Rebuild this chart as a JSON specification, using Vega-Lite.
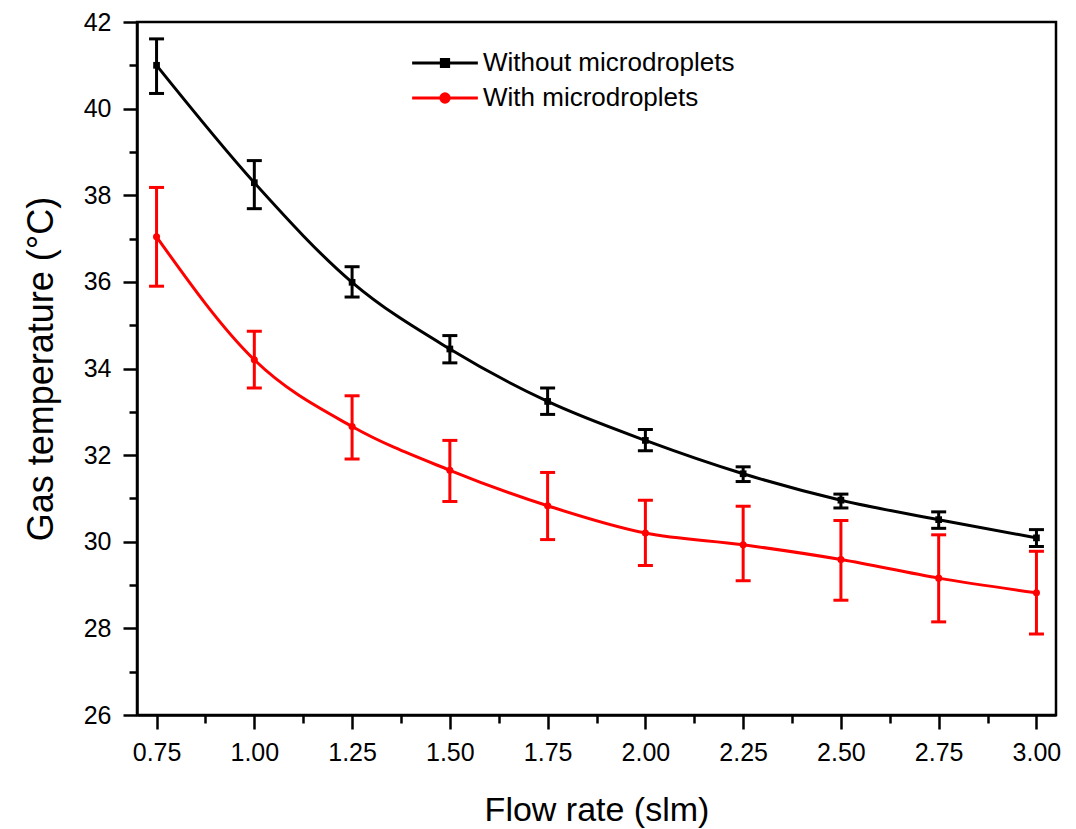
{
  "$schema": "https://vega.github.io/schema/vega-lite/v6.json",
  "width": 919,
  "height": 693,
  "autosize": {"type": "none"},
  "padding": {"left": 137, "top": 22, "right": 20, "bottom": 114},
  "background": "white",
  "data": {
    "values": [
      {"flow": 0.75, "temp": 41.0, "lo": 40.35, "hi": 41.61, "series": "Without microdroplets"},
      {"flow": 1.0, "temp": 38.29, "lo": 37.69, "hi": 38.8, "series": "Without microdroplets"},
      {"flow": 1.25, "temp": 35.99, "lo": 35.65, "hi": 36.35, "series": "Without microdroplets"},
      {"flow": 1.5, "temp": 34.45, "lo": 34.13, "hi": 34.76, "series": "Without microdroplets"},
      {"flow": 1.75, "temp": 33.24, "lo": 32.94, "hi": 33.55, "series": "Without microdroplets"},
      {"flow": 2.0, "temp": 32.34, "lo": 32.1, "hi": 32.59, "series": "Without microdroplets"},
      {"flow": 2.25, "temp": 31.57, "lo": 31.39, "hi": 31.73, "series": "Without microdroplets"},
      {"flow": 2.5, "temp": 30.96, "lo": 30.78, "hi": 31.1, "series": "Without microdroplets"},
      {"flow": 2.75, "temp": 30.51, "lo": 30.31, "hi": 30.69, "series": "Without microdroplets"},
      {"flow": 3.0, "temp": 30.09, "lo": 29.89, "hi": 30.28, "series": "Without microdroplets"},
      {"flow": 0.75, "temp": 37.04, "lo": 35.9, "hi": 38.18, "series": "With microdroplets"},
      {"flow": 1.0, "temp": 34.2, "lo": 33.55, "hi": 34.86, "series": "With microdroplets"},
      {"flow": 1.25, "temp": 32.66, "lo": 31.91, "hi": 33.37, "series": "With microdroplets"},
      {"flow": 1.5, "temp": 31.65, "lo": 30.93, "hi": 32.34, "series": "With microdroplets"},
      {"flow": 1.75, "temp": 30.83, "lo": 30.05, "hi": 31.6, "series": "With microdroplets"},
      {"flow": 2.0, "temp": 30.2, "lo": 29.45, "hi": 30.96, "series": "With microdroplets"},
      {"flow": 2.25, "temp": 29.93, "lo": 29.1, "hi": 30.82, "series": "With microdroplets"},
      {"flow": 2.5, "temp": 29.59, "lo": 28.65, "hi": 30.49, "series": "With microdroplets"},
      {"flow": 2.75, "temp": 29.16, "lo": 28.15, "hi": 30.16, "series": "With microdroplets"},
      {"flow": 3.0, "temp": 28.82, "lo": 27.87, "hi": 29.78, "series": "With microdroplets"}
    ]
  },
  "resolve": {"axis": {"x": "independent", "y": "independent"}},
  "layer": [
    {
      "mark": {"type": "line", "interpolate": "monotone", "strokeWidth": 3},
      "encoding": {
        "x": {"field": "flow", "type": "quantitative",
          "scale": {"domain": [0.7, 3.05], "nice": false, "zero": false},
          "axis": {"orient": "bottom", "title": "Flow rate (slm)", "values": [0.75, 1.0, 1.25, 1.5, 1.75, 2.0, 2.25, 2.5, 2.75, 3.0], "format": ".2f",
            "tickSize": 14, "labelPadding": 11, "labelFontSize": 25, "titleFontSize": 34, "titleFontWeight": "normal",
            "titleY": 105, "titleBaseline": "alphabetic"}},
        "y": {"field": "temp", "type": "quantitative",
          "scale": {"domain": [26, 42], "nice": false, "zero": false},
          "axis": {"orient": "left", "title": "Gas temperature (°C)", "values": [26, 28, 30, 32, 34, 36, 38, 40, 42],
            "tickSize": 14, "labelPadding": 12, "labelFontSize": 25, "titleFontSize": 36, "titleFontWeight": "normal",
            "titleX": -85, "titleBaseline": "alphabetic"}},
        "color": {"field": "series", "type": "nominal",
          "scale": {"domain": ["Without microdroplets", "With microdroplets"], "range": ["#000000", "#ff0000"]},
          "legend": {"title": null, "orient": "none", "legendX": 295, "legendY": 28,
            "symbolType": "M-3,0H3M-0.35,-0.35H0.35V0.35H-0.35Z", "symbolSize": 480, "symbolOpacity": 1, "symbolStrokeWidth": 3,
            "labelOffset": 25, "rowPadding": 9,
            "encode": {"symbols": {"update": {"shape": {"signal": "datum.value === 'With microdroplets' ? 'M-3,0H3M0.38,0A0.38,0.38,0,1,1,-0.38,0A0.38,0.38,0,1,1,0.38,0Z' : 'M-3,0H3M-0.33,-0.33H0.33V0.33H-0.33Z'"}}}}}}
      }
    },
    {
      "mark": {"type": "rule", "strokeWidth": 3},
      "encoding": {
        "x": {"field": "flow", "type": "quantitative",
          "scale": {"domain": [0.7, 3.05], "nice": false, "zero": false},
          "axis": {"orient": "bottom", "title": null, "labels": false, "domain": false, "tickSize": 8,
            "values": [0.875, 1.125, 1.375, 1.625, 1.875, 2.125, 2.375, 2.625, 2.875]}},
        "y": {"field": "lo", "type": "quantitative",
          "scale": {"domain": [26, 42], "nice": false, "zero": false},
          "axis": {"orient": "left", "title": null, "labels": false, "domain": false, "tickSize": 8,
            "values": [27, 29, 31, 33, 35, 37, 39, 41]}},
        "y2": {"field": "hi"},
        "color": {"field": "series", "type": "nominal",
          "scale": {"domain": ["Without microdroplets", "With microdroplets"], "range": ["#000000", "#ff0000"]}}
      }
    },
    {
      "mark": {"type": "tick", "orient": "horizontal", "size": 15, "thickness": 3, "opacity": 1},
      "encoding": {
        "x": {"field": "flow", "type": "quantitative", "scale": {"domain": [0.7, 3.05], "nice": false, "zero": false}, "axis": null},
        "y": {"field": "lo", "type": "quantitative", "scale": {"domain": [26, 42], "nice": false, "zero": false}, "axis": null},
        "color": {"field": "series", "type": "nominal",
          "scale": {"domain": ["Without microdroplets", "With microdroplets"], "range": ["#000000", "#ff0000"]}}
      }
    },
    {
      "mark": {"type": "tick", "orient": "horizontal", "size": 15, "thickness": 3, "opacity": 1},
      "encoding": {
        "x": {"field": "flow", "type": "quantitative", "scale": {"domain": [0.7, 3.05], "nice": false, "zero": false}, "axis": null},
        "y": {"field": "hi", "type": "quantitative", "scale": {"domain": [26, 42], "nice": false, "zero": false}, "axis": null},
        "color": {"field": "series", "type": "nominal",
          "scale": {"domain": ["Without microdroplets", "With microdroplets"], "range": ["#000000", "#ff0000"]}}
      }
    },
    {
      "transform": [{"filter": "datum.series === 'Without microdroplets'"}],
      "mark": {"type": "point", "filled": true, "opacity": 1, "shape": "square", "size": 45},
      "encoding": {
        "x": {"field": "flow", "type": "quantitative", "scale": {"domain": [0.7, 3.05], "nice": false, "zero": false}, "axis": null},
        "y": {"field": "temp", "type": "quantitative", "scale": {"domain": [26, 42], "nice": false, "zero": false}, "axis": null},
        "color": {"field": "series", "type": "nominal",
          "scale": {"domain": ["Without microdroplets", "With microdroplets"], "range": ["#000000", "#ff0000"]}}
      }
    },
    {
      "transform": [{"filter": "datum.series === 'With microdroplets'"}],
      "mark": {"type": "point", "filled": true, "opacity": 1, "shape": "circle", "size": 50},
      "encoding": {
        "x": {"field": "flow", "type": "quantitative", "scale": {"domain": [0.7, 3.05], "nice": false, "zero": false}, "axis": null},
        "y": {"field": "temp", "type": "quantitative", "scale": {"domain": [26, 42], "nice": false, "zero": false}, "axis": null},
        "color": {"field": "series", "type": "nominal",
          "scale": {"domain": ["Without microdroplets", "With microdroplets"], "range": ["#000000", "#ff0000"]}}
      }
    }
  ],
  "config": {
    "font": "Liberation Sans",
    "view": {"stroke": "#000000", "strokeWidth": 2.5},
    "axis": {
      "grid": false,
      "domainColor": "#000000",
      "domainWidth": 2.5,
      "tickColor": "#000000",
      "tickWidth": 2.5,
      "labelColor": "#000000",
      "titleColor": "#000000",
      "labelFont": "Liberation Sans",
      "titleFont": "Liberation Sans",
      "labelFontSize": 25
    },
    "legend": {
      "labelFont": "Liberation Sans",
      "labelFontSize": 26,
      "labelColor": "#000000",
      "symbolStrokeWidth": 3,
      "padding": 0,
      "labelLimit": 500
    }
  }
}
